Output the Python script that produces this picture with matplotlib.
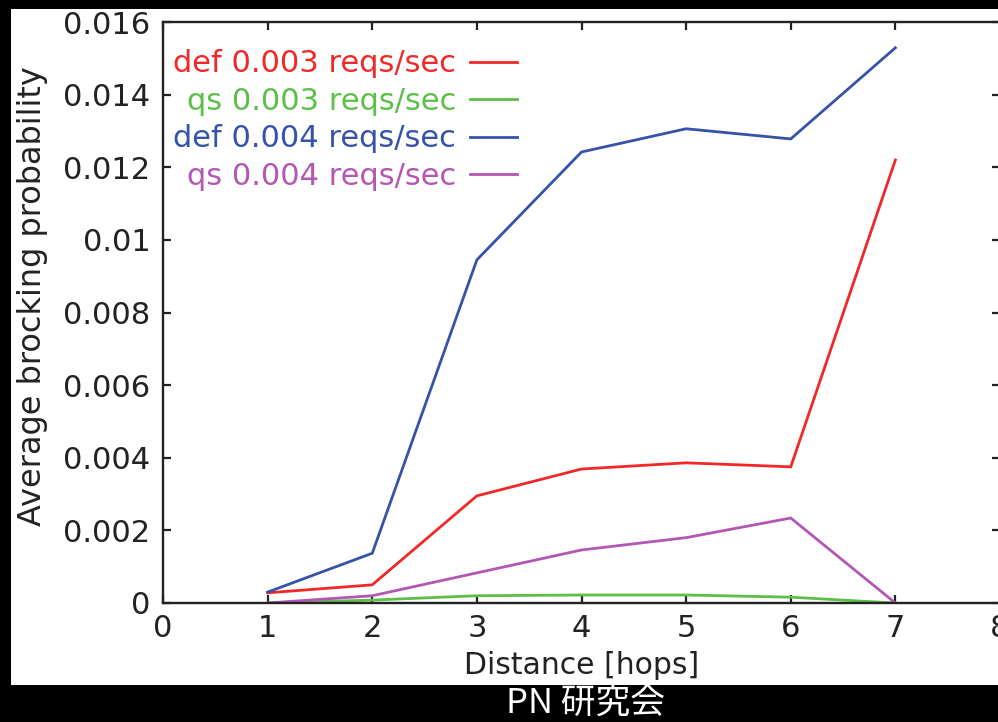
import numpy as np
import matplotlib
matplotlib.use("Agg")
import matplotlib.pyplot as plt
from matplotlib.patches import Rectangle

# data
hops = [1, 2, 3, 4, 5, 6, 7]
def_003 = [0.00028, 0.0005, 0.00295, 0.00369, 0.00386, 0.00375, 0.0122]
qs_003 = [0.0, 0.00008, 0.0002, 0.00022, 0.00022, 0.00016, 0.0]
def_004 = [0.0003, 0.00137, 0.00945, 0.01242, 0.01306, 0.01278, 0.01529]
qs_004 = [0.0, 0.0002, 0.00083, 0.00146, 0.0018, 0.00234, 0.0]

series_labels = ["def 0.003 reqs/sec", "qs 0.003 reqs/sec",
                 "def 0.004 reqs/sec", "qs 0.004 reqs/sec"]
series_colors = ["#f02828", "#5cbf48", "#3553a8", "#b456b4"]

x_ticks = list(range(0, 9))
y_ticks = [0, 0.002, 0.004, 0.006, 0.008, 0.01, 0.012, 0.014, 0.016]

plt.rcParams['font.family'] = ['DejaVu Sans']

W, H = 998, 722
fig = plt.figure(figsize=(W / 100, H / 100), dpi=100, facecolor="black")

# white slide area on black background
fig.patches.append(Rectangle((11 / W, 1 - 685 / H), 1, (685 - 9) / H,
                             transform=fig.transFigure, facecolor="white",
                             edgecolor="none", zorder=-5))

ax = fig.add_axes([163 / W, 1 - 603 / H, 837 / W, 581 / H])

for ys, lab, col in zip([def_003, qs_003, def_004, qs_004], series_labels, series_colors):
    ax.plot(hops, ys, color=col, lw=2.0, label=lab, solid_joinstyle="miter")

ax.set_xlim(0, 8)
ax.set_ylim(0, 0.016)
ax.set_xticks(x_ticks)
ax.set_yticks(y_ticks)
ax.set_yticklabels(["%g" % v for v in y_ticks])

ax.tick_params(direction="in", length=6, width=1.6, labelsize=22,
               colors="#222222", top=True, right=True)
ax.tick_params(axis="y", pad=9)
ax.tick_params(axis="x", pad=8)
for sp in ax.spines.values():
    sp.set_linewidth(1.7)
    sp.set_color("#222222")

ax.set_xlabel("Distance [hops]", fontsize=21.5, color="#222222", labelpad=5.5)
ax.set_ylabel("Average brocking probability", fontsize=23, color="#222222")
ax.yaxis.set_label_coords(-0.137, 0.528)

leg = ax.legend(loc="upper left", bbox_to_anchor=(0.012, 0.953),
                frameon=False, markerfirst=False, fontsize=22,
                handlelength=1.55, handletextpad=0.45, labelspacing=0.28,
                borderpad=0, borderaxespad=0)
for txt, col in zip(leg.get_texts(), series_colors):
    txt.set_color(col)

fig.text(586 / W, 1 - 703 / H, "PN 研究会", color="white", fontsize=25,
         ha="center", va="center",
         family=["Noto Sans CJK JP", "DejaVu Sans"])

fig.savefig("out.png", dpi=100, facecolor="black")
